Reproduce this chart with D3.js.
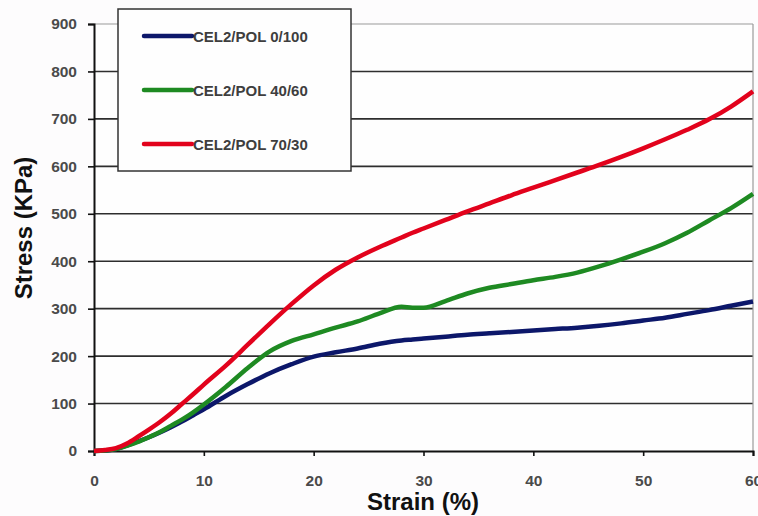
<!DOCTYPE html>
<html lang="en">
<head>
    <meta charset="UTF-8">
    <title>Stress vs Strain</title>
    <script src="https://d3js.org/d3.v7.min.js"></script>
    <style>
        body {
            margin: 0;
            background: #fdfcfd;
            font-family: Arial, "Liberation Sans", sans-serif;
        }
        svg { display: block; }
    </style>
</head>
<body>
    <div id="chart"></div>

    <script>
        // strain (%) sample points, shared by all series
        const strain = [0, 1, 2, 3, 4, 5, 6, 7, 8, 9, 10, 12, 14, 16, 18, 20, 22, 24, 26, 28, 29, 30,
            32, 34, 36, 38, 40, 42, 44, 46, 48, 50, 52, 54, 56, 58, 60];

        // stress (KPa)
        const pol0_100 = [0, 1, 4, 12, 20, 29, 39, 50, 62, 75, 88, 116, 141, 164, 183, 199, 208, 216, 226, 233, 235, 237,
            241, 245, 248, 251, 254, 257, 260, 264, 269, 275, 281, 289, 297, 306, 315];
        const pol40_60 = [0, 1, 4, 11, 19, 29, 40, 53, 66, 81, 98, 135, 175, 210, 232, 246, 260, 273, 290, 304, 302, 302,
            316, 332, 344, 352, 360, 367, 376, 389, 404, 420, 438, 460, 486, 512, 542];
        const pol70_30 = [0, 2, 6, 16, 30, 45, 61, 79, 99, 119, 140, 180, 224, 268, 310, 349, 382, 408, 430, 450, 460, 469,
            487, 505, 522, 539, 555, 571, 587, 603, 620, 638, 657, 677, 699, 726, 758];

        const seriesNames = ["CEL2/POL 0/100", "CEL2/POL 40/60", "CEL2/POL 70/30"];
        const seriesColors = ["#0c176a", "#1e8a22", "#e2021c"];
        const seriesValues = [pol0_100, pol40_60, pol70_30];

        const xTicks = [0, 10, 20, 30, 40, 50, 60];
        const yTicks = [0, 100, 200, 300, 400, 500, 600, 700, 800, 900];

        const W = 758, H = 516;
        const margin = { top: 24, right: 5, bottom: 65, left: 94 };
        const width = W - margin.left - margin.right,
            height = H - margin.top - margin.bottom;

        const svg = d3.select("#chart").append("svg")
            .attr("width", W)
            .attr("height", H);

        const g = svg.append("g")
            .attr("transform", `translate(${margin.left},${margin.top})`);

        const x = d3.scaleLinear().domain([0, 60]).range([0, width]);
        const y = d3.scaleLinear().domain([0, 900]).range([height, 0]);

        // plot background
        g.append("rect")
            .attr("width", x(60)).attr("height", height)
            .attr("fill", "#fefefe");

        // horizontal grid lines
        g.append("g")
            .selectAll("line")
            .data(yTicks.filter(d => d > 0))
            .enter()
            .append("line")
            .attr("x1", 0).attr("x2", x(60))
            .attr("y1", d => y(d)).attr("y2", d => y(d))
            .attr("stroke", d => d === 900 ? "#9a9a9a" : "#2e2e2e")
            .attr("stroke-width", d => d === 900 ? 1.2 : 1.6);

        // right border
        g.append("line")
            .attr("x1", x(60)).attr("x2", x(60))
            .attr("y1", y(900)).attr("y2", y(0))
            .attr("stroke", "#9a9a9a").attr("stroke-width", 1.2);

        // axes
        const xAxis = g.append("g")
            .attr("transform", `translate(0,${height})`)
            .call(d3.axisBottom(x).tickValues(xTicks).tickSize(5).tickPadding(19));
        const yAxis = g.append("g")
            .call(d3.axisLeft(y).tickValues(yTicks).tickSize(6).tickPadding(11));

        [xAxis, yAxis].forEach(a => {
            a.select(".domain").attr("stroke", "#111").attr("stroke-width", 2);
            a.selectAll(".tick line").attr("stroke", "#111").attr("stroke-width", 1.6);
            a.selectAll("text")
                .style("font-family", "Arial, 'Liberation Sans', sans-serif")
                .style("font-size", "15.5px")
                .style("font-weight", "bold")
                .attr("fill", "#4a4a4a");
        });

        // curves
        const line = d3.line()
            .x(d => x(d[0]))
            .y(d => y(d[1]))
            .curve(d3.curveMonotoneX);

        seriesValues.forEach((vals, i) => {
            g.append("path")
                .datum(strain.map((s, j) => [s, vals[j]]))
                .attr("fill", "none")
                .attr("stroke", seriesColors[i])
                .attr("stroke-width", 4.5)
                .attr("stroke-linejoin", "round")
                .attr("d", line);
        });

        // legend
        const legend = svg.append("g").attr("transform", "translate(118,9)");
        legend.append("rect")
            .attr("width", 233).attr("height", 162)
            .attr("fill", "#fefefe")
            .attr("stroke", "#333").attr("stroke-width", 1.5);

        seriesNames.forEach((name, i) => {
            const row = legend.append("g").attr("transform", `translate(0,${27 + i * 54})`);
            row.append("line")
                .attr("x1", 26).attr("x2", 74)
                .attr("stroke", seriesColors[i])
                .attr("stroke-width", 4.5)
                .attr("stroke-linecap", "round");
            row.append("text")
                .attr("x", 75).attr("y", 6)
                .style("font-size", "15px")
                .style("font-weight", "bold")
                .attr("fill", "#3e3e3e")
                .text(name);
        });

        // axis titles
        svg.append("text")
            .attr("x", 423).attr("y", 510)
            .attr("text-anchor", "middle")
            .style("font-size", "24px")
            .style("font-weight", "bold")
            .attr("fill", "#111")
            .text("Strain (%)");

        svg.append("text")
            .attr("transform", "translate(32,228) rotate(-90)")
            .attr("text-anchor", "middle")
            .style("font-size", "24px")
            .style("font-weight", "bold")
            .attr("fill", "#111")
            .text("Stress (KPa)");
    </script>
</body>
</html>
